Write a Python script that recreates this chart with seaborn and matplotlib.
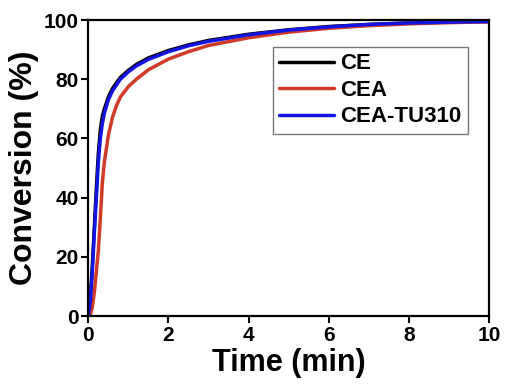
import matplotlib
matplotlib.use("Agg")
import matplotlib.pyplot as plt
import seaborn as sns
import pandas as pd

time_min = [0, 0.05, 0.1, 0.15, 0.2, 0.25, 0.3, 0.35, 0.4, 0.5, 0.6, 0.7, 0.8,
            1.0, 1.2, 1.5, 2.0, 2.5, 3.0, 4.0, 5.0, 6.0, 7.0, 8.0, 9.0, 10.0]
ce = [0, 6, 17, 30, 43, 55, 63, 67.5, 70, 74, 76.8, 78.8, 80.6,
      83, 85, 87.2, 89.7, 91.6, 93.1, 95.2, 96.7, 97.8, 98.5, 99, 99.3, 99.5]
cea = [0, 0.5, 3, 8, 15, 22, 33, 45, 52, 61, 67, 71, 74,
       77.5, 80, 83.2, 86.8, 89.3, 91.4, 94, 95.9, 97.2, 98.1, 98.7, 99.1, 99.4]
cea_tu310 = [0, 5, 15, 28, 40, 52, 60, 65, 68.5, 73, 76, 78, 80,
             82.5, 84.5, 86.7, 89.3, 91.3, 92.8, 95, 96.6, 97.7, 98.5, 99, 99.3, 99.5]
series_names = ["CE", "CEA", "CEA-TU310"]
colors = {"CE": "#000000", "CEA": "#d03a28", "CEA-TU310": "#1414e0"}

df = pd.concat([
    pd.DataFrame({"Time": time_min, "Conversion": vals, "Sample": name})
    for name, vals in zip(series_names, [ce, cea, cea_tu310])
], ignore_index=True)

sns.set_theme(style="ticks")
plt.rcParams["font.family"] = ["Liberation Sans", "DejaVu Sans"]
plt.rcParams["font.weight"] = "bold"
plt.rcParams["text.color"] = "black"
plt.rcParams["axes.labelcolor"] = "black"
plt.rcParams["xtick.color"] = "black"
plt.rcParams["ytick.color"] = "black"

fig = plt.figure(figsize=(5.12, 3.91), dpi=100)
ax = fig.add_axes([0.1725, 0.1918, 0.7826, 0.757])

sns.lineplot(data=df, x="Time", y="Conversion", hue="Sample",
             hue_order=series_names, palette=colors, linewidth=2.5,
             ax=ax, legend=True, estimator=None, sort=False)

ax.set_xlim(0, 10)
ax.set_ylim(0, 100)
ax.set_xticks([0, 2, 4, 6, 8, 10])
ax.set_yticks([0, 20, 40, 60, 80, 100])
ax.set_xlabel("Time (min)", fontsize=22, fontweight="bold", labelpad=2,
              color="black")
ax.set_ylabel("Conversion (%)", fontsize=23, fontweight="bold", labelpad=3,
              color="black")
for s in ax.spines.values():
    s.set_visible(True)
    s.set_linewidth(1.6)
    s.set_color("black")
ax.tick_params(axis="both", direction="out", length=5, width=1.5,
               labelsize=15, colors="black", pad=2)
for lab in ax.get_xticklabels() + ax.get_yticklabels():
    lab.set_fontweight("bold")

handles, labels = ax.get_legend_handles_labels()
for h in handles:
    h.set_linewidth(2.5)
leg = ax.legend(handles, labels, loc="upper left",
                bbox_to_anchor=(272.7 / 512, 1 - 46.7 / 391),
                bbox_transform=fig.transFigure, borderaxespad=0,
                prop={"weight": "bold", "size": 16},
                handlelength=2.45, handletextpad=0.3, labelspacing=0.25,
                borderpad=0.3, frameon=True, fancybox=False)
leg.get_frame().set_edgecolor("#555555")
leg.get_frame().set_linewidth(1.0)
for t in leg.get_texts():
    t.set_color("black")

fig.savefig("out.png", dpi=100)
